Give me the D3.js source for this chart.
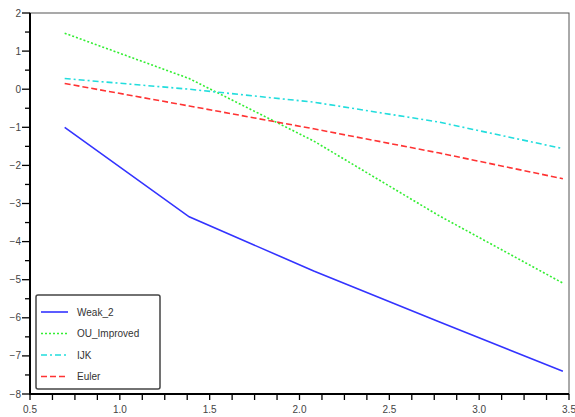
<!DOCTYPE html>
<html><head><meta charset="utf-8">
<script src="https://cdn.jsdelivr.net/npm/d3@7"></script>
<style>body{margin:0;background:#fff}svg{display:block}</style>
</head><body>
<svg id="c" width="575" height="417"></svg>
<script>
// x values are ln(2), ln(4), ln(8), ln(16), ln(32)
const xValues = [0.693, 1.386, 2.079, 2.773, 3.466];
const weak2 = [-1.0, -3.35, -4.77, -6.10, -7.40];
const ouImproved = [1.47, 0.28, -1.36, -3.31, -5.09];
const ijk = [0.28, 0.0, -0.34, -0.86, -1.56];
const euler = [0.15, -0.44, -1.04, -1.67, -2.35];
const seriesNames = ["Weak_2", "OU_Improved", "IJK", "Euler"];
const xTicks = [0.5, 1.0, 1.5, 2.0, 2.5, 3.0, 3.5];
const yTicks = [-8, -7, -6, -5, -4, -3, -2, -1, 0, 1, 2];

const svg = d3.select("#c");
const L = 30, R = 569, T = 13, B = 394;
const x = d3.scaleLinear().domain([0.5, 3.5]).range([L, R]);
const y = d3.scaleLinear().domain([-8, 2]).range([B, T]);

// frame (top/right thin)
svg.append("rect").attr("x", L).attr("y", T).attr("width", R - L).attr("height", B - T)
  .attr("fill", "none").attr("stroke", "#555").attr("stroke-width", 1);

const fontFam = "Liberation Sans, Arial, sans-serif";
// y axis
const yMinor = d3.range(-8, 2.01, 0.5);
const yAx = svg.append("g").attr("transform", `translate(${L},0)`);
yAx.selectAll("line.mn").data(yMinor).join("line")
  .attr("x1", d => Number.isInteger(d) ? -8 : -5).attr("x2", 0)
  .attr("y1", d => y(d)).attr("y2", d => y(d)).attr("stroke", "#000").attr("stroke-width", 1.3);
yAx.append("line").attr("x1", 0).attr("x2", 0).attr("y1", T).attr("y2", B + 1).attr("stroke", "#000").attr("stroke-width", 2);
yAx.selectAll("text").data(yTicks).join("text")
  .attr("x", -9).attr("y", d => y(d)).attr("dy", "0.35em").attr("text-anchor", "end")
  .attr("font-family", fontFam).attr("font-size", 10).attr("fill", "#444")
  .text(d => d < 0 ? "\u2212" + Math.abs(d) : d);

// x axis
const xMinor = d3.range(0.5, 3.5001, 0.125);
const xAx = svg.append("g").attr("transform", `translate(0,${B})`);
xAx.selectAll("line.mn").data(xMinor).join("line")
  .attr("y1", 0).attr("y2", 6)
  .attr("x1", d => x(d)).attr("x2", d => x(d)).attr("stroke", "#000").attr("stroke-width", 1.3);
xAx.append("line").attr("x1", L - 1).attr("x2", R).attr("y1", 0).attr("y2", 0).attr("stroke", "#000").attr("stroke-width", 2);
xAx.selectAll("text").data(xTicks).join("text")
  .attr("x", d => x(d)).attr("y", 19).attr("text-anchor", "middle")
  .attr("font-family", fontFam).attr("font-size", 10).attr("fill", "#444")
  .text(d => d.toFixed(1));

const styles = [
  {data: weak2, color: "#3333ff", dash: null},
  {data: ouImproved, color: "#33ee33", dash: "2,2"},
  {data: ijk, color: "#22dddd", dash: "6,3,2,3"},
  {data: euler, color: "#ff3333", dash: "6,3"}
];
const line = d3.line().x((d, i) => x(xValues[i])).y(d => y(d));
styles.forEach(s => {
  svg.append("path").attr("d", line(s.data)).attr("fill", "none")
    .attr("stroke", s.color).attr("stroke-width", 1.6)
    .attr("stroke-dasharray", s.dash);
});

// legend
const lg = svg.append("g");
lg.append("rect").attr("x", 36).attr("y", 295).attr("width", 124).attr("height", 94)
  .attr("rx", 2).attr("fill", "#fff").attr("stroke", "#444").attr("stroke-width", 1.5);
styles.forEach((s, i) => {
  const yy = 312 + i * 21.5;
  lg.append("line").attr("x1", 41).attr("x2", 68).attr("y1", yy).attr("y2", yy)
    .attr("stroke", s.color).attr("stroke-width", 1.6).attr("stroke-dasharray", s.dash);
  lg.append("text").attr("x", 77).attr("y", yy).attr("dy", "0.35em")
    .attr("font-family", fontFam).attr("font-size", 10).attr("fill", "#333")
    .text(seriesNames[i]);
});
</script>
</body></html>
